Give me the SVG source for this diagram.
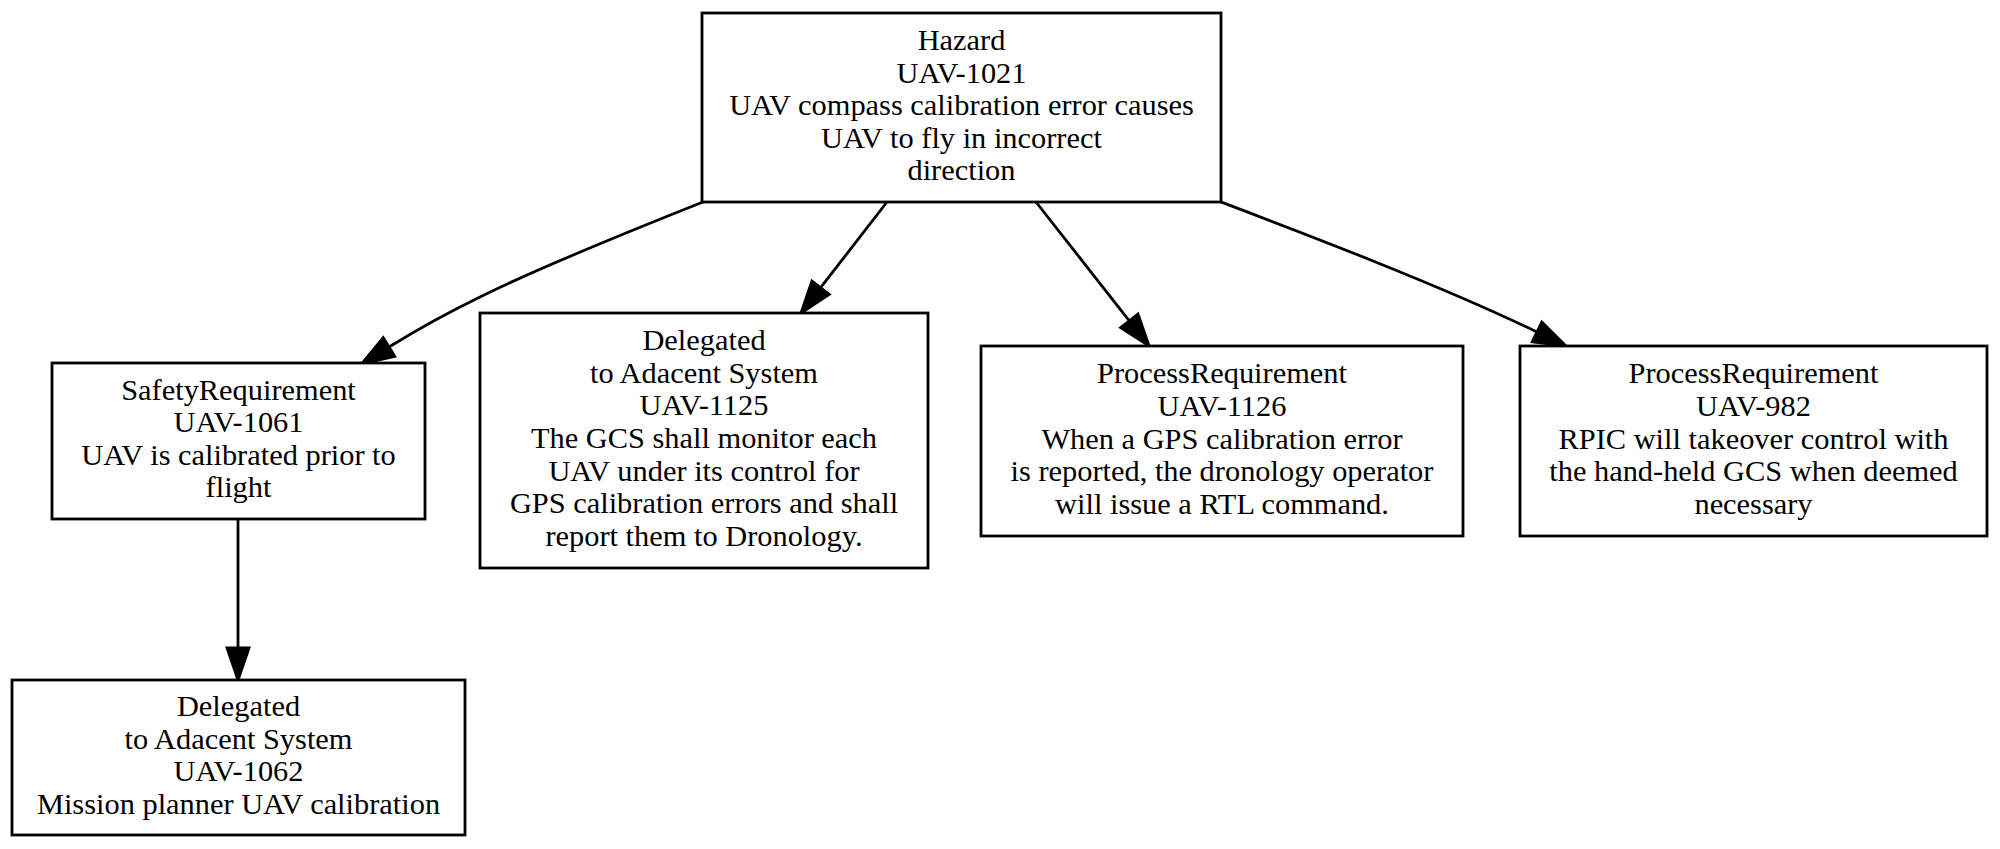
<svg xmlns="http://www.w3.org/2000/svg" width="2000" height="849" viewBox="0 0 2000 849">
<style>
.box{fill:#fff;stroke:#000;stroke-width:2.8}
.lbl{font-family:"Liberation Serif","Times New Roman",serif;font-size:30.4px;fill:#000;text-anchor:middle}
.edge{fill:none;stroke:#000;stroke-width:2.8}
</style>
<defs>
<marker id="arr" markerUnits="userSpaceOnUse" markerWidth="36" markerHeight="26" refX="0" refY="11" orient="auto" overflow="visible">
<path d="M0,0 L32,11 L0,22 z" fill="#000" stroke="#000" stroke-width="2.8" stroke-linejoin="miter"/>
</marker>
</defs>
<rect width="2000" height="849" fill="#fff"/>
<g id="connectors">
<path class="edge" marker-end="url(#arr)" d="M703,202 C630,231 540,267 480,297 C445,314 415,331 389,347"/>
<path class="edge" marker-end="url(#arr)" d="M887,202 L820.6,287.7"/>
<path class="edge" marker-end="url(#arr)" d="M1036,202 L1129.3,320.8"/>
<path class="edge" marker-end="url(#arr)" d="M1221,202 C1300,232 1440,285 1537,332"/>
<path class="edge" marker-end="url(#arr)" d="M238,519 L238,648"/>
</g>
<g id="hazard">
<rect class="box" x="702" y="13" width="519" height="189"/>
<text class="lbl"><tspan x="961.5" y="50">Hazard</tspan><tspan x="961.5" y="82.6">UAV-1021</tspan><tspan x="961.5" y="115.2">UAV compass calibration error causes</tspan><tspan x="961.5" y="147.8">UAV to fly in incorrect</tspan><tspan x="961.5" y="180.4">direction</tspan></text>
</g>
<g id="safety1061">
<rect class="box" x="52" y="363" width="373" height="156"/>
<text class="lbl"><tspan x="238.5" y="399.6">SafetyRequirement</tspan><tspan x="238.5" y="432.2">UAV-1061</tspan><tspan x="238.5" y="464.8">UAV is calibrated prior to</tspan><tspan x="238.5" y="497.4">flight</tspan></text>
</g>
<g id="delegated1125">
<rect class="box" x="480" y="313" width="448" height="255"/>
<text class="lbl"><tspan x="704" y="350.2">Delegated</tspan><tspan x="704" y="382.8">to Adacent System</tspan><tspan x="704" y="415.4">UAV-1125</tspan><tspan x="704" y="448">The GCS shall monitor each</tspan><tspan x="704" y="480.6">UAV under its control for</tspan><tspan x="704" y="513.2">GPS calibration errors and shall</tspan><tspan x="704" y="545.8">report them to Dronology.</tspan></text>
</g>
<g id="process1126">
<rect class="box" x="981" y="346" width="482" height="190"/>
<text class="lbl"><tspan x="1222" y="383.3">ProcessRequirement</tspan><tspan x="1222" y="415.9">UAV-1126</tspan><tspan x="1222" y="448.5">When a GPS calibration error</tspan><tspan x="1222" y="481.1">is reported, the dronology operator</tspan><tspan x="1222" y="513.7">will issue a RTL command.</tspan></text>
</g>
<g id="process982">
<rect class="box" x="1520" y="346" width="467" height="190"/>
<text class="lbl"><tspan x="1753.5" y="383.3">ProcessRequirement</tspan><tspan x="1753.5" y="415.9">UAV-982</tspan><tspan x="1753.5" y="448.5">RPIC will takeover control with</tspan><tspan x="1753.5" y="481.1">the hand-held GCS when deemed</tspan><tspan x="1753.5" y="513.7">necessary</tspan></text>
</g>
<g id="delegated1062">
<rect class="box" x="12" y="680" width="453" height="155"/>
<text class="lbl"><tspan x="238.5" y="716.1">Delegated</tspan><tspan x="238.5" y="748.7">to Adacent System</tspan><tspan x="238.5" y="781.3">UAV-1062</tspan><tspan x="238.5" y="813.9">Mission planner UAV calibration</tspan></text>
</g>
</svg>
